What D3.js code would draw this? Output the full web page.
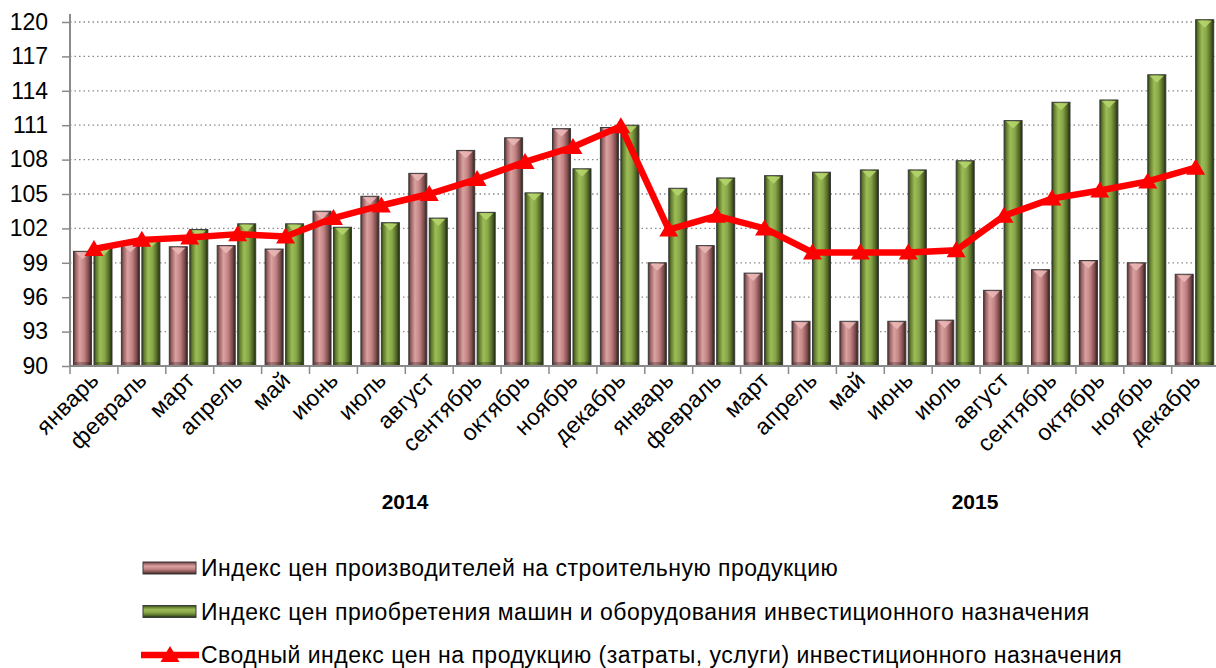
<!DOCTYPE html>
<meta charset="utf-8" />
<style>
  body {
    margin: 0;
    background: #fff;
  }
  text {
    font-family: "Liberation Sans", Arial, sans-serif;
  }
</style>

<body>
  <div id="grafico"></div>
  <script src="https://cdn.jsdelivr.net/npm/d3@7"></script>
  <script>
    // months, two years in a row
    let meses = ["январь", "февраль", "март", "апрель", "май", "июнь", "июль", "август", "сентябрь", "октябрь", "ноябрь", "декабрь"];
    let anos = ["2014", "2015"];
    let categorias = anos.flatMap((a) => meses.map((m) => a + " " + m));

    let indiceConstrucao = [100.0, 100.6, 100.4, 100.5, 100.2, 103.5, 104.8, 106.8, 108.8, 109.9, 110.7, 110.8,
      99.0, 100.5, 98.1, 93.9, 93.9, 93.9, 94.0, 96.6, 98.4, 99.2, 99.0, 98.0];
    let indiceMaquinas = [100.3, 101.0, 101.9, 102.4, 102.4, 102.1, 102.5, 102.9, 103.4, 105.1, 107.2, 111.0,
      105.5, 106.4, 106.6, 106.9, 107.1, 107.1, 107.9, 111.4, 113.0, 113.2, 115.4, 120.2];
    let indiceSintetico = [100.2, 101.0, 101.2, 101.5, 101.3, 102.9, 104.0, 105.0, 106.3, 107.8, 109.1, 110.9,
      101.9, 103.1, 102.0, 99.9, 99.9, 99.9, 100.1, 103.1, 104.6, 105.3, 106.1, 107.3];
    let ticksY = [90, 93, 96, 99, 102, 105, 108, 111, 114, 117, 120];
    let legendas = [
      "Индекс цен производителей на строительную продукцию",
      "Индекс цен приобретения машин и оборудования инвестиционного назначения",
      "Сводный индекс цен на продукцию (затраты, услуги) инвестиционного назначения",
    ];

    var width = 1216;
    var height = 668;

    let svg = d3.select("#grafico").append("svg").attr("width", width).attr("height", height);

    let x = d3.scaleBand().domain(categorias).range([70, 1219.6]).padding(0);
    let xSub = d3.scaleBand().domain(["p", "g"]).range([3.5, 42]).paddingInner(0.12);
    let y = d3.scaleLinear().domain([90, 120]).range([366, 22]);

    // gradients for the bevelled bars
    let defs = svg.append("defs");
    function gradiente(id, cores, vertical) {
      let g = defs.append("linearGradient").attr("id", id);
      if (vertical) g.attr("x1", 0).attr("x2", 0).attr("y1", 0).attr("y2", 1);
      cores.forEach((c) => g.append("stop").attr("offset", c[0]).attr("stop-color", c[1]));
    }
    let corRosa = [["0%", "#4d2f2f"], ["12%", "#9a6262"], ["35%", "#dba2a2"], ["60%", "#c28282"], ["85%", "#7a4a4a"], ["100%", "#2e1c1c"]];
    let corVerde = [["0%", "#2b3815"], ["12%", "#607b2e"], ["35%", "#9dbd56"], ["60%", "#87a548"], ["85%", "#4e6424"], ["100%", "#1e2710"]];
    gradiente("rosa", corRosa, false);
    gradiente("verde", corVerde, false);
    gradiente("rosaV", corRosa, true);
    gradiente("verdeV", corVerde, true);

    // grid
    svg
      .append("g")
      .selectAll("line")
      .data(ticksY.slice(1))
      .enter()
      .append("line")
      .attr("x1", 70)
      .attr("x2", width)
      .attr("y1", (d) => y(d))
      .attr("y2", (d) => y(d))
      .attr("stroke", "#8a8a8a")
      .attr("stroke-width", 1.3)
      .attr("stroke-dasharray", "1.5,3");

    // y axis
    let eixoY = svg
      .append("g")
      .attr("transform", "translate(70,0)")
      .call(d3.axisLeft(y).tickValues(ticksY).tickSize(8).tickPadding(14));
    eixoY.select(".domain").remove();
    eixoY.selectAll(".tick line").attr("stroke", "#8a8a8a").attr("stroke-width", 1.5);
    eixoY.selectAll(".tick text").attr("font-size", "23px").attr("fill", "#000").attr("font-family", "Liberation Sans, Arial, sans-serif");
    svg.append("line").attr("x1", 70).attr("x2", 70).attr("y1", 14).attr("y2", 366).attr("stroke", "#8a8a8a").attr("stroke-width", 2);

    // bars
    let series = [
      { chave: "p", valores: indiceConstrucao, grad: "rosa", topo: "#eab6b6" },
      { chave: "g", valores: indiceMaquinas, grad: "verde", topo: "#b6d46c" },
    ];
    series.forEach((s) => {
      let grupo = svg
        .append("g")
        .selectAll("g")
        .data(s.valores)
        .enter()
        .append("g")
        .attr("transform", (d, i) => "translate(" + (x(categorias[i]) + xSub(s.chave)) + ",0)");
      grupo
        .append("rect")
        .attr("x", 0)
        .attr("y", (d) => y(d))
        .attr("width", xSub.bandwidth())
        .attr("height", (d) => y(90) - y(d))
        .attr("fill", "url(#" + s.grad + ")")
        .attr("stroke", "#3b3b3b")
        .attr("stroke-width", 1);
      grupo
        .append("path")
        .attr("d", (d) => {
          let t = y(d) + 1;
          let w = xSub.bandwidth();
          return "M2," + t + "L" + (w - 2) + "," + t + "L" + w / 2 + "," + (t + 7) + "Z";
        })
        .attr("fill", s.topo)
        .attr("opacity", 0.9);
      grupo
        .append("rect")
        .attr("x", 1.5)
        .attr("y", y(90) - 4)
        .attr("width", xSub.bandwidth() - 3)
        .attr("height", 3)
        .attr("fill", "#000")
        .attr("opacity", 0.25);
    });

    // x axis
    svg.append("line").attr("x1", 70).attr("x2", width).attr("y1", 366).attr("y2", 366).attr("stroke", "#8a8a8a").attr("stroke-width", 2);
    svg
      .append("g")
      .selectAll("line")
      .data(categorias)
      .enter()
      .append("line")
      .attr("x1", (d) => x(d))
      .attr("x2", (d) => x(d))
      .attr("y1", 366)
      .attr("y2", 374)
      .attr("stroke", "#8a8a8a")
      .attr("stroke-width", 1.5);

    svg
      .append("g")
      .selectAll("text")
      .data(categorias)
      .enter()
      .append("text")
      .attr("transform", (d) => "translate(" + (x(d) + x.bandwidth() / 2 - 5) + ",370) rotate(-45)")
      .attr("text-anchor", "end")
      .attr("dy", "0.7em")
      .attr("font-size", "23px")
      .attr("letter-spacing", "0.4px")
      .attr("fill", "#000")
      .text((d) => d.split(" ")[1]);

    svg
      .append("g")
      .selectAll("text")
      .data(anos)
      .enter()
      .append("text")
      .attr("x", (d, i) => [405, 975][i])
      .attr("y", 509)
      .attr("text-anchor", "middle")
      .attr("font-size", "21px")
      .attr("font-weight", "bold")
      .text((d) => d);

    // line with triangles
    let linha = d3
      .line()
      .x((d, i) => x(categorias[i]) + x.bandwidth() / 2)
      .y((d) => y(d));
    svg.append("path").datum(indiceSintetico).attr("d", linha).attr("fill", "none").attr("stroke", "#ff0000").attr("stroke-width", 6.5);
    let triangulo = (cx, cy) => "M" + cx + "," + (cy - 9) + "L" + (cx + 9.5) + "," + (cy + 7) + "L" + (cx - 9.5) + "," + (cy + 7) + "Z";
    svg
      .append("g")
      .selectAll("path")
      .data(indiceSintetico)
      .enter()
      .append("path")
      .attr("d", (d, i) => triangulo(x(categorias[i]) + x.bandwidth() / 2, y(d)))
      .attr("fill", "#ff0000");

    // legend
    let leg = svg
      .append("g")
      .selectAll("g")
      .data(legendas)
      .enter()
      .append("g")
      .attr("transform", (d, i) => "translate(0," + (568 + i * 43.5) + ")");
    leg
      .filter((d, i) => i < 2)
      .append("rect")
      .attr("x", 143)
      .attr("y", -6)
      .attr("width", 53)
      .attr("height", 12)
      .attr("fill", (d, i) => (i == 0 ? "url(#rosaV)" : "url(#verdeV)"))
      .attr("stroke", "#3b3b3b");
    leg
      .filter((d, i) => i == 2)
      .append("line")
      .attr("x1", 141)
      .attr("x2", 199)
      .attr("y1", 0)
      .attr("y2", 0)
      .attr("stroke", "#ff0000")
      .attr("stroke-width", 6.5);
    leg
      .filter((d, i) => i == 2)
      .append("path")
      .attr("d", triangulo(170, 0))
      .attr("fill", "#ff0000");
    leg
      .append("text")
      .attr("x", 201)
      .attr("y", 0)
      .attr("dy", "0.35em")
      .attr("font-size", "23px")
      .attr("letter-spacing", "0.5px")
      .attr("fill", "#000")
      .text((d) => d);
  </script>
</body>
